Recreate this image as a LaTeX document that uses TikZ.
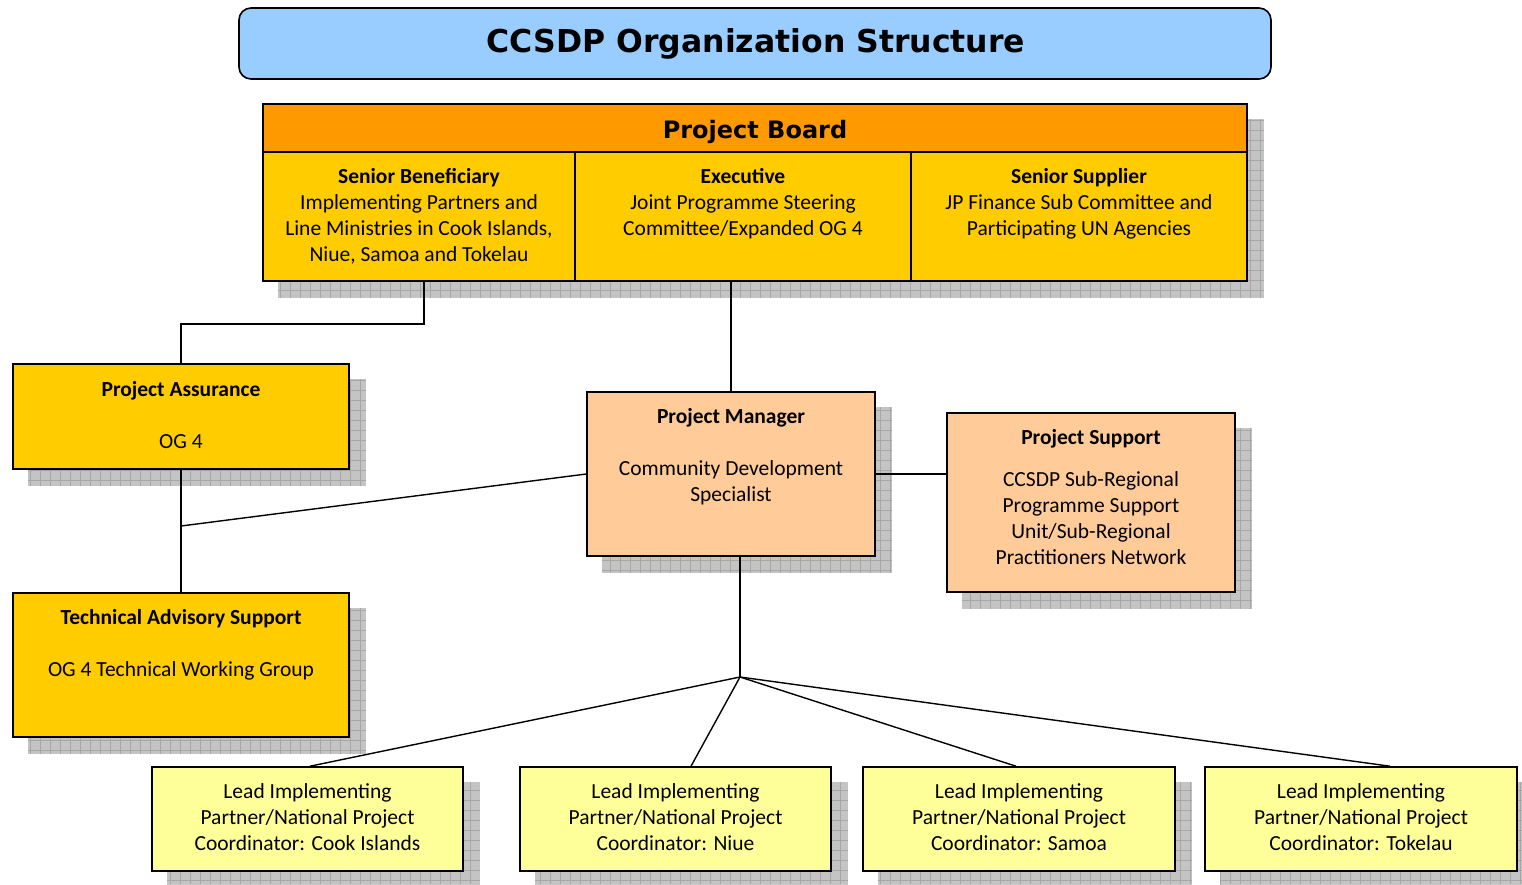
\documentclass[tikz,border=0pt]{standalone}
\usepackage{fontspec}
\setmainfont{Carlito}
\newfontfamily\titlefont{DejaVu Sans}
\usetikzlibrary{backgrounds}
\definecolor{titleblue}{HTML}{99CCFF}
\definecolor{boardorange}{HTML}{FF9900}
\definecolor{cellgold}{HTML}{FFCC00}
\definecolor{peach}{HTML}{FFCC99}
\definecolor{paleyellow}{HTML}{FFFF99}
\definecolor{shfill}{HTML}{C4C4C4}
\definecolor{shline}{HTML}{A6A6A6}
\newcommand\dropsh[2]{%
  \begin{scope}
    \clip ([shift={(16,16)}]#1) rectangle ([shift={(16,16)}]#2);
    \fill[shfill] ([shift={(16,16)}]#1) rectangle ([shift={(16,16)}]#2);
    \draw[shline, line width=0.6pt, step=10pt] (0pt,-884pt) grid (1530pt,0pt);
  \end{scope}}
\tikzset{
  boxbase/.style={draw=black, line width=1.6pt, rectangle, inner sep=0pt},
  txt/.style={align=center, inner sep=0pt, font=\fontsize{21.5}{26}\selectfont},
  conn/.style={draw=black, line width=1.4pt},
}
\begin{document}
\begin{tikzpicture}[x=1pt, y=-1pt]
\useasboundingbox (0,0) rectangle (1522,884);
% title
\node[boxbase, fill=titleblue, rounded corners=12pt, minimum width=1032pt, minimum height=71pt] (title) at (755,43.5) {};
\node[inner sep=0pt, font=\titlefont\bfseries\fontsize{31.5}{36}\selectfont] (titlet) at (756,44) {CCSDP Organization Structure};
% project board
\node[boxbase, fill=boardorange, minimum width=984pt, minimum height=48pt] (pbh) at (755,128) {};
\node[inner sep=0pt, font=\titlefont\bfseries\fontsize{24}{28}\selectfont] (pbht) at (755,131.5) {Project Board};
\node[boxbase, fill=cellgold, minimum width=312pt, minimum height=129pt] (sb) at (419,216.5) {};
\node[boxbase, fill=cellgold, minimum width=336pt, minimum height=129pt] (ex) at (743,216.5) {};
\node[boxbase, fill=cellgold, minimum width=336pt, minimum height=129pt] (ss) at (1079,216.5) {};
\node[txt] (sbt) at (419,216.5) {\textbf{Senior Beneficiary}\\Implementing Partners and\\Line Ministries in Cook Islands,\\Niue, Samoa and Tokelau};
\node[txt] (ext) at (743,203.5) {\textbf{Executive}\\Joint Programme Steering\\Committee/Expanded OG 4};
\node[txt] (sst) at (1079,203.5) {\textbf{Senior Supplier}\\JP Finance Sub Committee and\\Participating UN Agencies};
% left column
\node[boxbase, fill=cellgold, minimum width=336pt, minimum height=105pt] (pa) at (181,416.5) {};
\node[txt] (pat) at (181,415) {\textbf{Project Assurance}\\[26pt]OG 4};
\node[boxbase, fill=cellgold, minimum width=336pt, minimum height=144pt] (tas) at (181,665) {};
\node[txt] (tast) at (181,644.5) {\textbf{Technical Advisory Support}\\[26pt]OG 4 Technical Working Group};
% manager and support
\node[boxbase, fill=peach, minimum width=288pt, minimum height=164pt] (pm) at (731,474) {};
\node[txt] (pmt) at (731,457) {\textbf{Project Manager}\\[26pt]Community Development\\Specialist};
\node[boxbase, fill=peach, minimum width=288pt, minimum height=179pt] (ps) at (1091,502.5) {};
\node[txt] (pst) at (1091,497.5) {\textbf{Project Support}\\[16pt]CCSDP Sub-Regional\\Programme Support\\Unit/Sub-Regional\\Practitioners Network};
% bottom row
\node[boxbase, fill=paleyellow, minimum width=311pt, minimum height=104pt] (b1) at (307.5,819) {};
\node[boxbase, fill=paleyellow, minimum width=311pt, minimum height=104pt] (b2) at (675.5,819) {};
\node[boxbase, fill=paleyellow, minimum width=312pt, minimum height=104pt] (b3) at (1019,819) {};
\node[boxbase, fill=paleyellow, minimum width=312pt, minimum height=104pt] (b4) at (1361,819) {};
\node[txt] (b1t) at (307.5,817.5) {Lead Implementing\\Partner/National Project\\Coordinator: Cook Islands};
\node[txt] (b2t) at (675.5,817.5) {Lead Implementing\\Partner/National Project\\Coordinator: Niue};
\node[txt] (b3t) at (1019,817.5) {Lead Implementing\\Partner/National Project\\Coordinator: Samoa};
\node[txt] (b4t) at (1361,817.5) {Lead Implementing\\Partner/National Project\\Coordinator: Tokelau};
% connector points
\coordinate (j1) at (181,526);
\coordinate (hub) at (740,677);
\begin{scope}[on background layer]
  \dropsh{pbh.north west}{ss.south east}
  \dropsh{pa.north west}{pa.south east}
  \dropsh{tas.north west}{tas.south east}
  \dropsh{pm.north west}{pm.south east}
  \dropsh{ps.north west}{ps.south east}
  \dropsh{b1.north west}{b1.south east}
  \dropsh{b2.north west}{b2.south east}
  \dropsh{b3.north west}{b3.south east}
  \dropsh{b4.north west}{b4.south east}
  % connectors
  \draw[conn] ([xshift=5pt]sb.south) -- ++(0,42) -| (pa.north);
  \draw[conn] (pm.north) -- (pm.north |- ex.south);
  \draw[conn] (pa.south) -- (tas.north);
  \draw[conn] (pm.west) -- (j1);
  \draw[conn] (pm.east) -- (pm.east -| ps.west);
  \draw[conn] ([xshift=9pt]pm.south) -- (hub);
  \draw[conn] (hub) -- ([xshift=2.5pt]b1.north);
  \draw[conn] (hub) -- ([xshift=15.5pt]b2.north);
  \draw[conn] (hub) -- ([xshift=-3pt]b3.north);
  \draw[conn] (hub) -- ([xshift=29pt]b4.north);
\end{scope}
\end{tikzpicture}
\end{document}
